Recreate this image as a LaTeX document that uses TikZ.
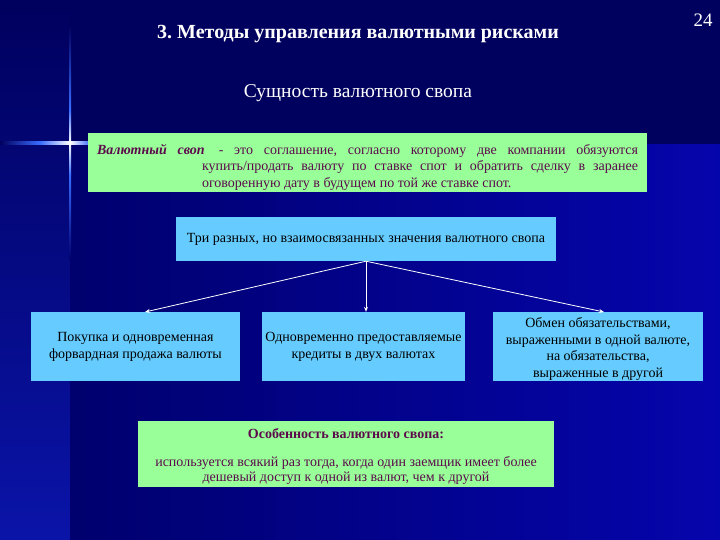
\documentclass[tikz,border=0pt]{standalone}
\usepackage{fontspec}
\setmainfont{Liberation Serif}
\usetikzlibrary{arrows.meta}
\frenchspacing
\definecolor{bgdark}{HTML}{00005E}
\definecolor{bgleftlow}{HTML}{0A14A8}
\definecolor{bgmid}{HTML}{00006E}
\definecolor{bgright}{HTML}{0505AC}
\definecolor{flare}{HTML}{3A6CFF}
\definecolor{greenbox}{HTML}{99FF99}
\definecolor{bluebox}{HTML}{66CCFF}
\definecolor{purpletext}{HTML}{5C0A4C}
\tikzset{
  greenstyle/.style={fill=greenbox, text=purpletext, inner sep=0pt, align=center},
  bluestyle/.style={fill=bluebox, text=black, inner sep=0pt, align=center, font=\fontsize{14}{16.7}\selectfont},
  conn/.style={draw=white, line width=0.8pt, -{Stealth[length=5pt,width=4pt]}}
}
\begin{document}
\begin{tikzpicture}[x=1pt,y=-1pt]
\useasboundingbox (0,0) rectangle (720,540);
% background
\fill[bgdark] (0,0) rectangle (720,540);
\shade[top color=bgdark, bottom color=bgleftlow] (0,0) rectangle (70,540);
\shade[left color=bgmid, right color=bgright] (70,145) rectangle (720,540);
% flare
\shade[top color=bgdark, bottom color=flare] (69,25) rectangle (71.2,110);
\shade[top color=flare, bottom color=white] (69,110) rectangle (71.2,143);
\shade[top color=white, bottom color=flare] (69,143) rectangle (71.2,175);
\shade[top color=flare, bottom color=bgmid] (69,175) rectangle (71.2,260);
\shade[left color=bgdark, right color=flare] (0,142) rectangle (40,144.2);
\shade[left color=flare, right color=white] (40,142) rectangle (70,144.2);
\shade[left color=white, right color=flare] (70,142) rectangle (90,144.2);
% titles
\node[text=white, font=\fontsize{20}{24}\selectfont\bfseries] (title) at (358,34) {3. Методы управления валютными рисками};
\node[text=white, font=\fontsize{19}{22}\selectfont] (pagenum) at (703,20) {24};
\node[text=white, font=\fontsize{19.5}{22}\selectfont] (subtitle) at (358,93) {Сущность валютного свопа};
% definition box
\node[greenstyle, minimum width=559pt, minimum height=59pt, font=\fontsize{14}{16.5}\selectfont] (def) at (367.5,162.5)
 {\raisebox{-4.5pt}[\height][\depth]{\parbox{541pt}{\hangindent=105pt\hangafter=1\noindent{\bfseries\itshape Валютный своп}\quad - это соглашение, согласно которому две компании обязуются\linebreak купить/продать валюту по ставке спот и обратить сделку в заранее\linebreak оговоренную дату в будущем по той же ставке спот.}}};
% meanings
\node[bluestyle, minimum width=380pt, minimum height=44pt] (three) at (366,239) {Три разных, но взаимосвязанных значения валютного свопа};
\node[bluestyle, minimum width=209pt, minimum height=69pt] (left) at (135.5,346.5) {\raisebox{-0.5pt}[\height][\depth]{\parbox{207pt}{\centering Покупка и одновременная\\форвардная продажа валюты}}};
\node[bluestyle, minimum width=203pt, minimum height=69pt] (mid) at (363.5,346.5) {\raisebox{-0.5pt}[\height][\depth]{\parbox{201pt}{\centering Одновременно предоставляемые\\кредиты в двух валютах}}};
\node[bluestyle, minimum width=210pt, minimum height=69pt] (right) at (598,346.5) {\raisebox{-2.5pt}[\height][\depth]{\parbox{208pt}{\centering Обмен обязательствами,\\выраженными в одной валюте,\\на обязательства,\\выраженные в другой}}};
\coordinate (hub) at (three.south);
\coordinate (tl) at (145,312);
\coordinate (tr) at (604,312);
\draw[conn] (hub) -- (tl);
\draw[conn] (hub) -- (hub |- mid.north);
\draw[conn] (hub) -- (tr);
% feature box
\node[greenstyle, minimum width=416pt, minimum height=66pt, font=\fontsize{14}{15.5}\selectfont] (feat) at (346,453.5)
 {\raisebox{-3pt}[\height][\depth]{\parbox{410pt}{\centering{\bfseries Особенность валютного свопа:}\\[12.5pt]используется всякий раз тогда, когда один заемщик имеет более\\дешевый доступ к одной из валют, чем к другой}}};
\end{tikzpicture}
\end{document}
